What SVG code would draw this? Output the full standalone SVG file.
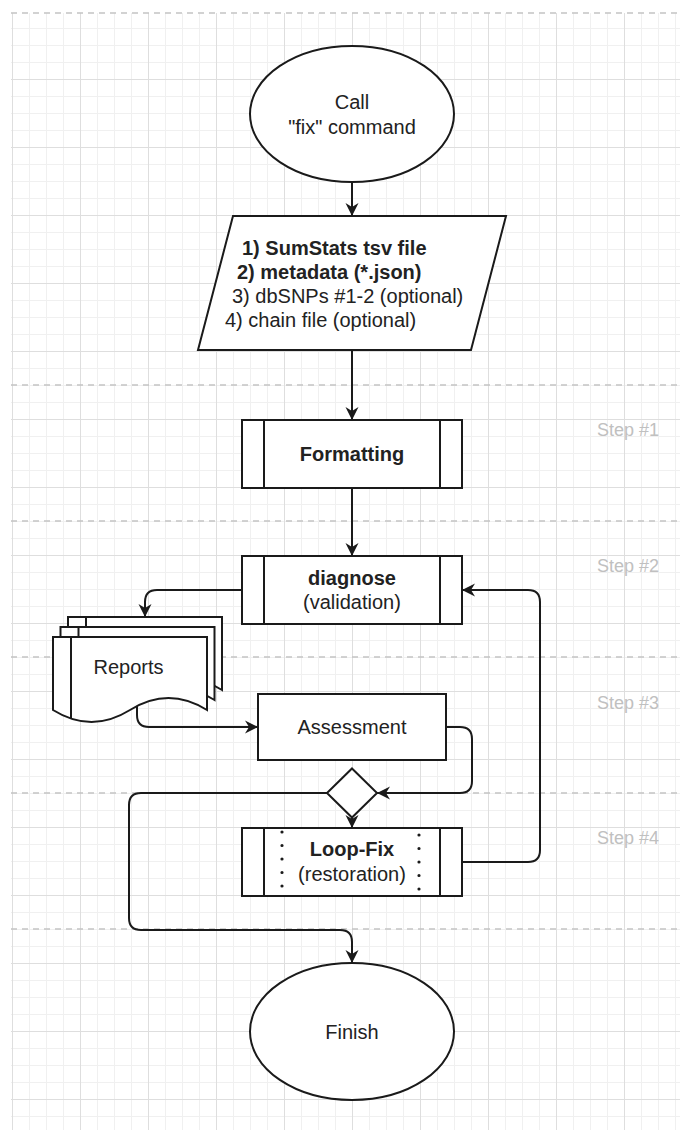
<svg xmlns="http://www.w3.org/2000/svg" width="680" height="1130" viewBox="0 0 680 1130">
  <defs>
    <pattern id="grid" patternUnits="userSpaceOnUse" x="12" y="11" width="68" height="68">
      <rect x="17" y="0" width="1" height="68" fill="#f0f0f0"/>
      <rect x="34" y="0" width="1" height="68" fill="#f0f0f0"/>
      <rect x="51" y="0" width="1" height="68" fill="#f0f0f0"/>
      <rect x="0" y="17" width="68" height="1" fill="#f0f0f0"/>
      <rect x="0" y="34" width="68" height="1" fill="#f0f0f0"/>
      <rect x="0" y="51" width="68" height="1" fill="#f0f0f0"/>
      <rect x="0" y="0" width="1" height="68" fill="#dedede"/>
      <rect x="0" y="0" width="68" height="1" fill="#dedede"/>
    </pattern>
    <marker id="arr" viewBox="-14 -7 15 14" markerWidth="15" markerHeight="14" refX="0" refY="0" orient="auto" markerUnits="userSpaceOnUse">
      <path d="M0,0 L-13,-6.5 L-9,0 L-13,6.5 Z" fill="#1a1a1a"/>
    </marker>
    <style>
      .shape { fill: #ffffff; stroke: #1a1a1a; stroke-width: 2; }
      .bar { fill: none; stroke: #1a1a1a; stroke-width: 2; }
      .dots { fill: none; stroke: #1a1a1a; stroke-width: 3.2; stroke-linecap: round; stroke-dasharray: 0 13.5; }
      .edge { fill: none; stroke: #1a1a1a; stroke-width: 2; }
      .arrow { marker-end: url(#arr); }
      .lane { fill: none; stroke: #c4c4c4; stroke-width: 1.5; stroke-dasharray: 6 5; }
      .t { font-family: "Liberation Sans", Arial, sans-serif; font-size: 20px; fill: #222222; }
      .c { text-anchor: middle; }
      .b { font-weight: bold; }
      .step { font-family: "Liberation Sans", Arial, sans-serif; font-size: 18px; fill: #c0c0c0; }
    </style>
  </defs>

  <g id="background">
    <rect x="0" y="0" width="680" height="1130" fill="#ffffff"/>
    <rect x="11" y="13" width="669" height="1117" fill="url(#grid)"/>
    <line class="lane" x1="11" y1="13" x2="680" y2="13"/>
    <line class="lane" x1="11" y1="385" x2="680" y2="385"/>
    <line class="lane" x1="11" y1="521" x2="680" y2="521"/>
    <line class="lane" x1="11" y1="657" x2="680" y2="657"/>
    <line class="lane" x1="11" y1="793" x2="680" y2="793"/>
    <line class="lane" x1="11" y1="929" x2="680" y2="929"/>
  </g>

  <g id="step-labels">
    <text class="step" x="597" y="435.5">Step #1</text>
    <text class="step" x="597" y="571.5">Step #2</text>
    <text class="step" x="597" y="709">Step #3</text>
    <text class="step" x="597" y="843.5">Step #4</text>
  </g>

  <g id="start">
    <ellipse class="shape" cx="352" cy="114" rx="102" ry="68"/>
    <text class="t c" x="352" y="109">Call</text>
    <text class="t c" x="352" y="134">"fix" command</text>
  </g>

  <g id="inputs">
    <path class="shape" d="M233,216 L506,216 L471,350 L198,350 Z"/>
    <text class="t b" x="242" y="255">1) SumStats tsv file</text>
    <text class="t b" x="237" y="279">2) metadata (*.json)</text>
    <text class="t" x="232" y="303">3) dbSNPs #1-2 (optional)</text>
    <text class="t" x="225" y="327">4) chain file (optional)</text>
  </g>

  <g id="formatting">
    <rect class="shape" x="242" y="420" width="220" height="68"/>
    <line class="bar" x1="264" y1="420" x2="264" y2="488"/>
    <line class="bar" x1="440" y1="420" x2="440" y2="488"/>
    <text class="t c b" x="352" y="461">Formatting</text>
  </g>

  <g id="diagnose">
    <rect class="shape" x="242" y="556" width="220" height="68"/>
    <line class="bar" x1="264" y1="556" x2="264" y2="624"/>
    <line class="bar" x1="440" y1="556" x2="440" y2="624"/>
    <text class="t c b" x="352" y="585">diagnose</text>
    <text class="t c" x="352" y="609">(validation)</text>
  </g>

  <g id="reports">
    <path class="shape" d="M68,617 L222,617 L222,690 Q183.5,666 145,690 Q106.5,714 68,690 Z"/>
    <line class="bar" x1="86" y1="617" x2="86" y2="698"/>
    <path class="shape" d="M60.5,627 L214.5,627 L214.5,700 Q176,676 137.5,700 Q99,724 60.5,700 Z"/>
    <line class="bar" x1="78.5" y1="627" x2="78.5" y2="708"/>
    <path class="shape" d="M53,637 L207,637 L207,710 Q168.5,686 130,710 Q91.5,734 53,710 Z"/>
    <line class="bar" x1="71" y1="637" x2="71" y2="718"/>
    <text class="t c" x="128.5" y="674">Reports</text>
  </g>

  <g id="assessment">
    <rect class="shape" x="258" y="694" width="188" height="66"/>
    <text class="t c" x="352" y="734">Assessment</text>
  </g>

  <g id="decision">
    <path class="shape" d="M352,768.5 L377,793 L352,817.5 L327,793 Z"/>
  </g>

  <g id="loop-fix">
    <rect class="shape" x="242" y="828" width="220" height="68"/>
    <line class="bar" x1="264" y1="828" x2="264" y2="896"/>
    <line class="bar" x1="440" y1="828" x2="440" y2="896"/>
    <line class="dots" x1="282" y1="832" x2="282" y2="890"/>
    <line class="dots" x1="419" y1="835" x2="419" y2="893"/>
    <text class="t c b" x="352" y="856">Loop-Fix</text>
    <text class="t c" x="352" y="881">(restoration)</text>
  </g>

  <g id="finish">
    <ellipse class="shape" cx="352" cy="1031.5" rx="102" ry="68.5"/>
    <text class="t c" x="352" y="1039">Finish</text>
  </g>

  <g id="connectors">
    <path class="edge arrow" d="M352,182 L352,216"/>
    <path class="edge arrow" d="M352,350 L352,420"/>
    <path class="edge arrow" d="M352,488 L352,556"/>
    <path class="edge arrow" d="M242,590 L157,590 Q145,590 145,602 L145,617"/>
    <path class="edge arrow" d="M137,706 L137,715 Q137,727 149,727 L258,727"/>
    <path class="edge arrow" d="M446,727 L460,727 Q472,727 472,739 L472,781 Q472,793 460,793 L377,793"/>
    <path class="edge arrow" d="M352,817.5 L352,828"/>
    <path class="edge arrow" d="M327,793 L141,793 Q129,793 129,805 L129,918 Q129,930 141,930 L340,930 Q352,930 352,942 L352,963"/>
    <path class="edge arrow" d="M462,862 L528,862 Q540,862 540,850 L540,602 Q540,590 528,590 L462,590"/>
  </g>
</svg>
